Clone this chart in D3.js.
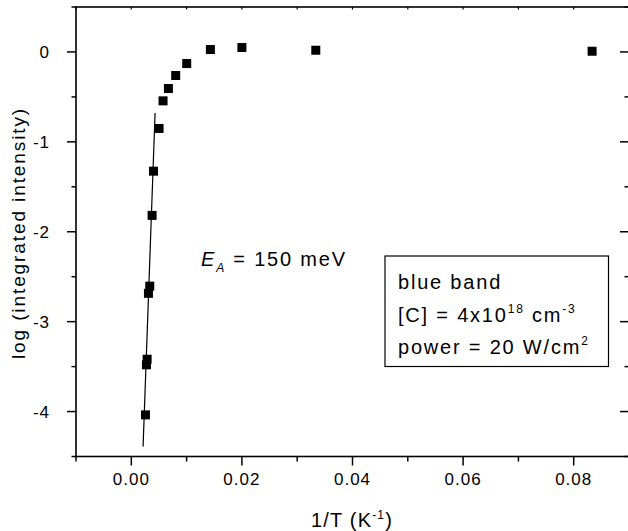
<!DOCTYPE html>
<html>
<head>
<meta charset="utf-8">
<script src="https://cdn.jsdelivr.net/npm/d3@7/dist/d3.min.js"></script>
<style>
  html, body { margin: 0; padding: 0; background: #fff; }
  svg { display: block; }
  text { font-family: "Liberation Sans", Arial, sans-serif; fill: #000; }
</style>
</head>
<body>
<svg id="chart" width="628" height="531"></svg>
<script>
// ---- data ----
const invT = [0.00256, 0.00274, 0.00286, 0.00310, 0.00334, 0.00376, 0.00401, 0.00502, 0.00574, 0.00671, 0.00803, 0.01002, 0.01430, 0.02000, 0.03336, 0.08333];
const logI = [-4.037, -3.480, -3.418, -2.685, -2.605, -1.818, -1.326, -0.851, -0.544, -0.407, -0.262, -0.129, 0.027, 0.049, 0.019, 0.008];
const fitX = [0.00213, 0.00430];
const fitY = [-4.39, -0.678];
const xTicks = [0.00, 0.02, 0.04, 0.06, 0.08];
const xTickLabels = ["0.00", "0.02", "0.04", "0.06", "0.08"];
const xMinorTicks = [-0.01, 0.01, 0.03, 0.05, 0.07, 0.09];
const yTicks = [0, -1, -2, -3, -4];
const yTickLabels = ["0", "-1", "-2", "-3", "-4"];
const yMinorTicks = [0.5, -0.5, -1.5, -2.5, -3.5, -4.5];
const legendLines = ["blue band", "[C] = 4x10|18| cm|-3", "power = 20 W/cm|2"];

// ---- layout ----
const svg = d3.select("#chart");
const L = 76, R = 629, T = 7, B = 456.5;
const x = d3.scaleLinear().domain([-0.01, 0.09]).range([L, R]);
const y = d3.scaleLinear().domain([-4.5, 0.5]).range([B, T]);

const g = svg.append("g");

// frame
g.append("rect").attr("x", L).attr("y", T).attr("width", R - L).attr("height", B - T)
  .attr("fill", "none").attr("stroke", "#000").attr("stroke-width", 1.6);

// bottom axis ticks (outward)
g.selectAll(".xt").data(xTicks).join("line")
  .attr("x1", d => x(d)).attr("x2", d => x(d)).attr("y1", B).attr("y2", B + 9)
  .attr("stroke", "#000").attr("stroke-width", 1.5);
g.selectAll(".xmt").data(xMinorTicks).join("line")
  .attr("x1", d => x(d)).attr("x2", d => x(d)).attr("y1", B).attr("y2", B + 5)
  .attr("stroke", "#000").attr("stroke-width", 1.5);
// top axis small ticks
g.selectAll(".xtt").data(xTicks.concat(xMinorTicks)).join("line")
  .attr("x1", d => x(d)).attr("x2", d => x(d)).attr("y1", T).attr("y2", T + 2.5)
  .attr("stroke", "#000").attr("stroke-width", 1.2);

// left axis ticks (outward)
g.selectAll(".yt").data(yTicks).join("line")
  .attr("x1", L - 9).attr("x2", L).attr("y1", d => y(d)).attr("y2", d => y(d))
  .attr("stroke", "#000").attr("stroke-width", 1.5);
g.selectAll(".ymt").data(yMinorTicks).join("line")
  .attr("x1", L - 4.5).attr("x2", L).attr("y1", d => y(d)).attr("y2", d => y(d))
  .attr("stroke", "#000").attr("stroke-width", 1.5);
// right axis ticks (inward)
g.selectAll(".yrt").data(yTicks).join("line")
  .attr("x1", R - 9).attr("x2", R).attr("y1", d => y(d)).attr("y2", d => y(d))
  .attr("stroke", "#000").attr("stroke-width", 1.5);
g.selectAll(".yrmt").data(yMinorTicks).join("line")
  .attr("x1", R - 4.5).attr("x2", R).attr("y1", d => y(d)).attr("y2", d => y(d))
  .attr("stroke", "#000").attr("stroke-width", 1.5);

// tick labels
g.selectAll(".xl").data(xTicks).join("text")
  .attr("x", d => x(d)).attr("y", 485)
  .attr("text-anchor", "middle").attr("font-size", 17).attr("letter-spacing", 1)
  .text((d, i) => xTickLabels[i]);
g.selectAll(".yl").data(yTicks).join("text")
  .attr("x", 50).attr("y", d => y(d) + 6)
  .attr("text-anchor", "end").attr("font-size", 17).attr("letter-spacing", 1)
  .text((d, i) => yTickLabels[i]);

// axis titles
const xt = g.append("text").attr("x", 352).attr("y", 527)
  .attr("text-anchor", "middle").attr("font-size", 20).attr("letter-spacing", 1.2);
xt.append("tspan").text("1/T (K");
xt.append("tspan").attr("font-size", 12).attr("dy", -8).text("-1");
xt.append("tspan").attr("dy", 8).text(")");

g.append("text").attr("transform", "translate(25,233) rotate(-90)")
  .attr("text-anchor", "middle").attr("font-size", 19).attr("letter-spacing", 1.9)
  .text("log (integrated intensity)");

// fit line
g.append("path").datum(fitX.map((d, i) => [d, fitY[i]]))
  .attr("d", d3.line().x(d => x(d[0])).y(d => y(d[1])))
  .attr("fill", "none").attr("stroke", "#000").attr("stroke-width", 1.2);

// points
const s = 9;
g.selectAll(".pt").data(invT.map((d, i) => [d, logI[i]])).join("rect")
  .attr("x", d => x(d[0]) - s / 2).attr("y", d => y(d[1]) - s / 2)
  .attr("width", s).attr("height", s).attr("fill", "#000");

// E_A annotation
const ea = g.append("text").attr("x", 201).attr("y", 266).attr("font-size", 20).attr("letter-spacing", 1.8);
ea.append("tspan").attr("font-style", "italic").text("E");
ea.append("tspan").attr("font-style", "italic").attr("font-size", 12).attr("dy", 6).text("A");
ea.append("tspan").attr("dy", -6).text(" = 150 meV");

// legend box
g.append("rect").attr("x", 385).attr("y", 256).attr("width", 223.5).attr("height", 110.5)
  .attr("fill", "#fff").attr("stroke", "#000").attr("stroke-width", 1.2);
const baselines = [289, 322, 354];
legendLines.forEach((line, i) => {
  const t = g.append("text").attr("x", 398).attr("y", baselines[i]).attr("font-size", 20).attr("letter-spacing", 1.8);
  const parts = line.split("|");
  parts.forEach((p, j) => {
    if (p === "") return;
    const sup = j % 2 === 1;
    const ts = t.append("tspan").text(p);
    if (sup) ts.attr("font-size", 12).attr("dy", -9);
    else if (j > 0) ts.attr("dy", 9);
  });
});
</script>
</body>
</html>
